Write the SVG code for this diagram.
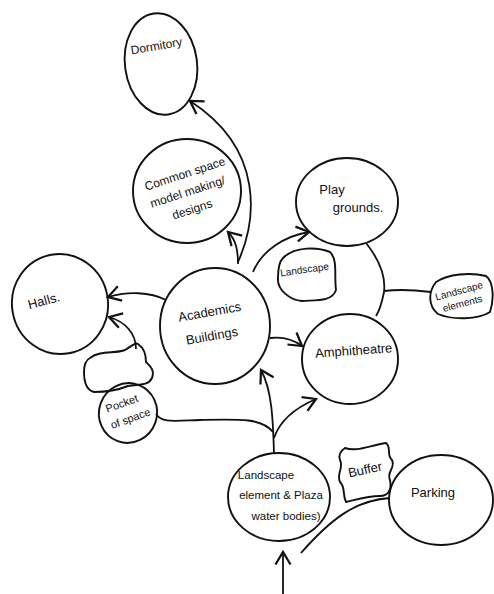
<svg xmlns="http://www.w3.org/2000/svg" width="494" height="594" viewBox="0 0 494 594">
<defs>
<marker id="arr" markerWidth="20" markerHeight="20" refX="0" refY="0" viewBox="-12 -8 14 16" orient="auto" markerUnits="userSpaceOnUse">
<path d="M -10 -6 L 0 0 L -10 6" fill="none" stroke="#111" stroke-width="1.8"/>
</marker>
<style>
.b{fill:none;stroke:#111;stroke-width:1.9}
.c{fill:none;stroke:#111;stroke-width:1.8}
.t{font-family:"Liberation Sans","DejaVu Sans",sans-serif;font-size:13px;fill:#111;text-anchor:middle}
</style>
</defs>
<rect width="494" height="594" fill="#ffffff"/>
<g id="connectors">
<path class="c" d="M 238 262 C 256 222, 266 150, 190 101" marker-end="url(#arr)"/>
<path class="c" d="M 238 264 C 238 250, 236 240, 228 232" marker-end="url(#arr)"/>
<path class="c" d="M 253 272 C 262 250, 285 236, 309 232" marker-end="url(#arr)"/>
<path class="c" d="M 166 300 C 150 292, 128 291, 108 297" marker-end="url(#arr)"/>
<path class="c" d="M 136 349 C 136 334, 126 322, 109 317" marker-end="url(#arr)"/>
<path class="c" d="M 270 338 C 285 336, 294 340, 302 346" marker-end="url(#arr)"/>
<path class="c" d="M 274 453 C 273 420, 272 390, 261 370" marker-end="url(#arr)"/>
<path class="c" d="M 274 438 C 280 420, 295 408, 316 399" marker-end="url(#arr)"/>
<path class="c" d="M 156 414 C 162 423, 172 421, 200 420 C 240 419, 262 418, 273 432"/>
<path class="c" d="M 366 243 C 378 258, 386 275, 384 292 C 382 302, 380 310, 376 316"/>
<path class="c" d="M 384 291 C 400 289, 415 290, 431 292"/>
<path class="c" d="M 390 498 C 355 500, 330 520, 301 553"/>
<path class="c" d="M 283 594 L 283 552" marker-end="url(#arr)"/>
</g>
<g id="dormitory">
<ellipse class="b" cx="161" cy="64" rx="36" ry="51" transform="rotate(-8 161 64)"/>
<text class="t" x="157" y="50" style="font-size:12px" transform="rotate(-10 157 50)">Dormitory</text>
</g>
<g id="common-space">
<ellipse class="b" cx="187" cy="191" rx="54" ry="52"/>
<text class="t" style="font-size:12px" transform="rotate(-18 187 190)"><tspan x="190" y="178">Common space</tspan><tspan x="187" y="196">model making/</tspan><tspan x="186" y="214">designs</tspan></text>
</g>
<g id="playgrounds">
<ellipse class="b" cx="347" cy="202" rx="51" ry="44"/>
<text class="t" x="332" y="194">Play</text>
<text class="t" x="358" y="212">grounds.</text>
</g>
<g id="landscape">
<path class="b" d="M 283 258 C 295 246, 318 247, 330 252 C 338 260, 334 275, 336 290 C 332 302, 316 300, 302 301 C 290 300, 277 290, 278 278 C 278 270, 279 262, 283 258 Z"/>
<text class="t" x="305" y="273" style="font-size:10px" transform="rotate(-8 305 273)">Landscape</text>
</g>
<g id="halls">
<ellipse class="b" cx="60" cy="304" rx="48" ry="50" transform="rotate(-10 60 304)"/>
<text class="t" x="45" y="305" transform="rotate(-15 45 305)">Halls.</text>
</g>
<g id="academics">
<ellipse class="b" cx="215" cy="326" rx="55" ry="58"/>
<text class="t" transform="rotate(-10 212 325)"><tspan x="212" y="316">Academics</tspan><tspan x="210" y="340">Buildings</tspan></text>
</g>
<g id="landscape-elements">
<path class="b" d="M 436 282 C 448 274, 470 272, 486 276 C 494 282, 494 300, 490 312 C 478 320, 452 320, 438 314 C 428 306, 428 292, 436 282 Z"/>
<text class="t" style="font-size:10px" transform="rotate(-15 461 298)"><tspan x="461" y="294">Landscape</tspan><tspan x="461" y="307">elements</tspan></text>
</g>
<g id="amphitheatre">
<ellipse class="b" cx="350" cy="359" rx="48" ry="45"/>
<text class="t" x="354" y="355" transform="rotate(-4 354 355)">Amphitheatre</text>
</g>
<g id="pocket-blob">
<path class="b" d="M 90 358 C 100 350, 115 354, 125 350 C 132 346, 135 342, 138 344 C 144 348, 146 356, 146 362 C 150 366, 155 370, 152 378 C 148 386, 140 384, 128 386 C 118 390, 106 392, 94 392 C 86 390, 84 380, 84 372 C 84 366, 86 360, 90 358 Z"/>
</g>
<g id="pocket-of-space">
<ellipse class="b" cx="128" cy="413" rx="29" ry="30" transform="rotate(20 128 413)"/>
<text class="t" style="font-size:11px" transform="rotate(-20 127 412)"><tspan x="125" y="406">Pocket</tspan><tspan x="128" y="423">of space</tspan></text>
</g>
<g id="landscape-plaza">
<ellipse class="b" cx="279" cy="497" rx="51" ry="44"/>
<text class="t" style="font-size:11.5px"><tspan x="266" y="479">Landscape</tspan><tspan x="281" y="499">element &amp; Plaza</tspan><tspan x="286" y="520">water bodies)</tspan></text>
</g>
<g id="buffer">
<path class="b" d="M 345 448 C 356 452, 368 446, 386 443 C 392 448, 386 455, 392 460 C 396 468, 386 472, 390 480 C 392 490, 388 496, 380 496 C 366 496, 356 500, 346 502 C 342 494, 346 488, 340 482 C 336 474, 344 468, 340 460 C 338 454, 342 450, 345 448 Z"/>
<text class="t" x="366" y="474" transform="rotate(-12 366 474)">Buffer</text>
</g>
<g id="parking">
<ellipse class="b" cx="441" cy="500" rx="52" ry="45"/>
<text class="t" x="433" y="497">Parking</text>
</g>
</svg>
